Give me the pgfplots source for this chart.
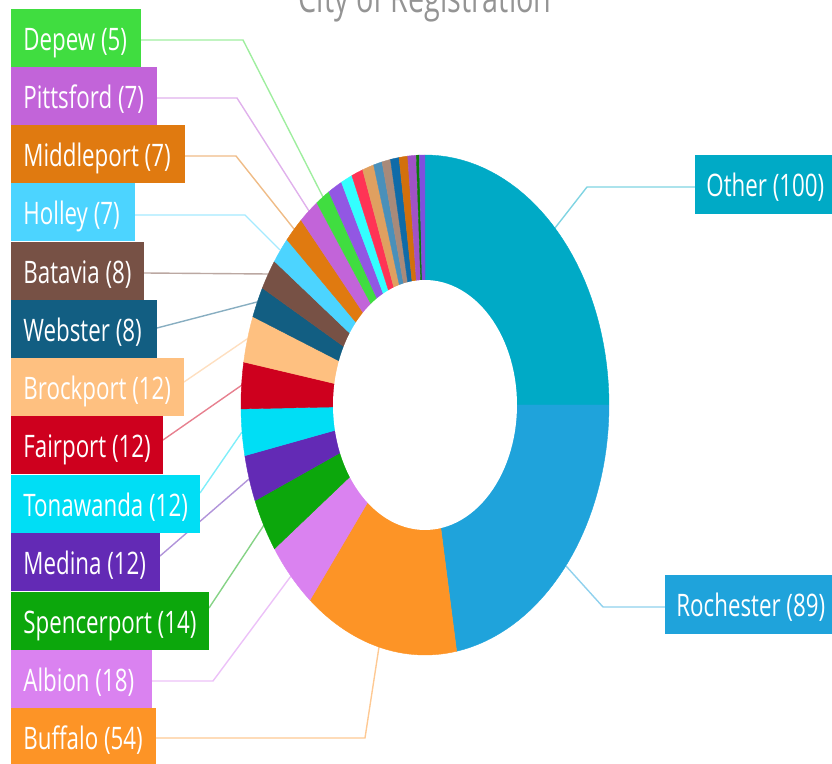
\documentclass[border=0pt]{standalone}
\usepackage{pgfplots}
\pgfplotsset{compat=1.18}
\usepackage{fontspec}
\setmainfont[FakeStretch=0.72]{Open Sans}

\definecolor{cOther}{HTML}{00AAC6}
\definecolor{cRoch}{HTML}{1FA3DB}
\definecolor{cBuff}{HTML}{FD9426}
\definecolor{cAlb}{HTML}{DA82F0}
\definecolor{cSpen}{HTML}{0CA70C}
\definecolor{cMed}{HTML}{632AB5}
\definecolor{cTon}{HTML}{00DEF5}
\definecolor{cFair}{HTML}{CE001E}
\definecolor{cBrock}{HTML}{FEC080}
\definecolor{cWeb}{HTML}{125E82}
\definecolor{cBat}{HTML}{775145}
\definecolor{cHol}{HTML}{4CD4FF}
\definecolor{cMid}{HTML}{E07A10}
\definecolor{cPit}{HTML}{C264D9}
\definecolor{cDep}{HTML}{40DD40}
\definecolor{sA}{HTML}{9257E3}
\definecolor{sB}{HTML}{33FFFF}
\definecolor{sC}{HTML}{FF3355}
\definecolor{sD}{HTML}{E0A060}
\definecolor{sE}{HTML}{4A90BA}
\definecolor{sF}{HTML}{A88A7A}
\definecolor{sG}{HTML}{0F6BA8}
\definecolor{sH}{HTML}{D2700C}
\definecolor{sI}{HTML}{A152C5}
\definecolor{sJ}{HTML}{0B7A0B}
\definecolor{sK}{HTML}{7F4FDD}

\newcommand\cum{0}
\newcommand\slice[2]{%
  \pgfmathsetmacro\sa{90-0.9*\cum}%
  \pgfmathsetmacro\tmpc{\cum+#1}\xdef\cum{\tmpc}%
  \pgfmathsetmacro\sb{90-0.9*\cum}%
  \edef\tmp{\noexpand\addplot[fill=#2,draw=#2,line width=0.2pt,domain=\sb:\sa,samples=40,variable=\noexpand\t]
    ({425+184*cos(\noexpand\t)},{405-250*sin(\noexpand\t)}) -- (axis cs:425,405) -- cycle;}%
  \tmp}

% left label box: top y, right x, colour, text
\newcommand\lbox[4]{%
  \fill[#3] (axis cs:11,#1) rectangle (axis cs:#2,#1+58);
  \node[anchor=base west,text=white,inner sep=0pt,font=\fontsize{15.5}{17}\selectfont] at (axis cs:23,#1+42) {#4};}
\newcommand\rbox[4]{%
  \fill[#3] (axis cs:#2,#1) rectangle (axis cs:840,#1+59);
  \node[anchor=base west,text=white,inner sep=0pt,font=\fontsize{15.5}{17}\selectfont] at (axis cs:#2+11,#1+42) {#4};}

\begin{document}
\begin{tikzpicture}
\begin{axis}[
  at={(0,0)}, anchor=south west,
  width=416pt, height=382pt, scale only axis,
  xmin=0, xmax=832, ymin=0, ymax=764, y dir=reverse,
  hide axis, clip=false,
]
% leader lines
\draw[cOther!50, line width=0.7pt] (axis cs:555,228) -- (axis cs:587,187) -- (axis cs:695,187);
\draw[cRoch!50, line width=0.7pt] (axis cs:566,566) -- (axis cs:603,607) -- (axis cs:665,607);
\draw[cBuff!50, line width=0.7pt] (axis cs:379,647) -- (axis cs:365,738) -- (axis cs:156,738);
\draw[cAlb!50, line width=0.7pt] (axis cs:291,576) -- (axis cs:213,681) -- (axis cs:152,681);
\draw[cSpen!50, line width=0.7pt] (axis cs:264,525) -- (axis cs:209,608);
\draw[cMed!50, line width=0.7pt] (axis cs:249,479) -- (axis cs:160,556);
\draw[cTon!50, line width=0.7pt] (axis cs:242,432) -- (axis cs:200,493);
\draw[cFair!50, line width=0.7pt] (axis cs:242,385) -- (axis cs:163,440);
\draw[cBrock!50, line width=0.7pt] (axis cs:247,339) -- (axis cs:184,382);
\draw[cWeb!50, line width=0.7pt] (axis cs:257,302) -- (axis cs:157,328);
\draw[cBat!50, line width=0.7pt] (axis cs:268,274) -- (axis cs:144,273);
\draw[cHol!50, line width=0.7pt] (axis cs:280,250) -- (axis cs:245,215) -- (axis cs:135,215);
\draw[cMid!50, line width=0.7pt] (axis cs:294,229) -- (axis cs:236,156) -- (axis cs:185,156);
\draw[cPit!50, line width=0.7pt] (axis cs:309,211) -- (axis cs:237,98) -- (axis cs:157,98);
\draw[cDep!50, line width=0.7pt] (axis cs:323,197) -- (axis cs:243,40) -- (axis cs:141,40);

% slices (counts)
\slice{100}{cOther}
\slice{89}{cRoch}
\slice{54}{cBuff}
\slice{18}{cAlb}
\slice{14}{cSpen}
\slice{12}{cMed}
\slice{12}{cTon}
\slice{12}{cFair}
\slice{12}{cBrock}
\slice{8}{cWeb}
\slice{8}{cBat}
\slice{7}{cHol}
\slice{7}{cMid}
\slice{7}{cPit}
\slice{5}{cDep}
\slice{5}{sA}
\slice{4}{sB}
\slice{4}{sC}
\slice{4}{sD}
\slice{3}{sE}
\slice{3}{sF}
\slice{3}{sG}
\slice{3}{sH}
\slice{3}{sI}
\slice{1}{sJ}
\slice{2}{sK}
% hole
\addplot[fill=white,draw=none,domain=0:360,samples=120,variable=\t] ({425+92*cos(\t)},{405-125*sin(\t)}) -- cycle;

% labels
\lbox{9}{141}{cDep}{Depew (5)}
\lbox{67}{157}{cPit}{Pittsford (7)}
\lbox{125}{185}{cMid}{Middleport (7)}
\lbox{183}{135}{cHol}{Holley (7)}
\lbox{242}{144}{cBat}{Batavia (8)}
\lbox{300}{157}{cWeb}{Webster (8)}
\lbox{358}{184}{cBrock}{Brockport (12)}
\lbox{416}{163}{cFair}{Fairport (12)}
\lbox{475}{200}{cTon}{Tonawanda (12)}
\lbox{533}{160}{cMed}{Medina (12)}
\lbox{592}{209}{cSpen}{Spencerport (14)}
\lbox{650}{152}{cAlb}{Albion (18)}
\lbox{708}{156}{cBuff}{Buffalo (54)}
\rbox{155}{695}{cOther}{Other (100)}
\rbox{575}{665}{cRoch}{Rochester (89)}

\node[anchor=base,text=black!42,inner sep=0pt,font=\fontsize{20}{22}\selectfont] at (axis cs:425,13) {City of Registration};
\end{axis}
\pgfresetboundingbox
\useasboundingbox (0,0) rectangle (416pt,382pt);
\end{tikzpicture}
\end{document}
